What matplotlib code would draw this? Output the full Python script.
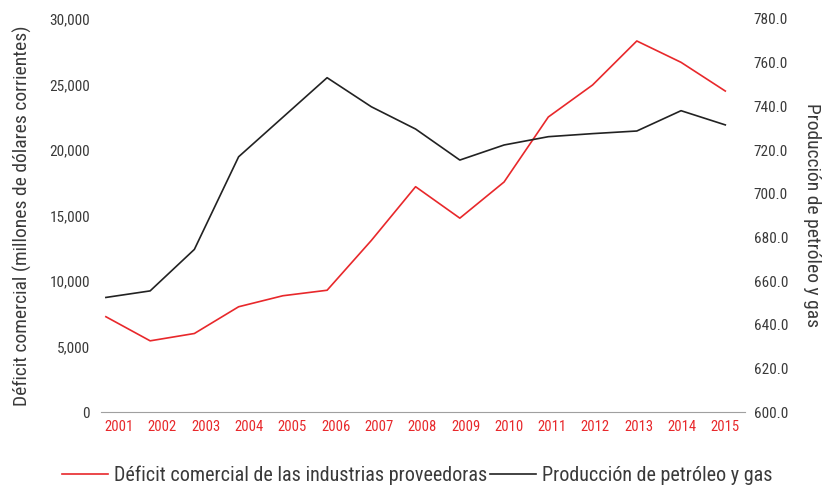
import numpy as np
import matplotlib.pyplot as plt
from matplotlib import font_manager

# datos
anios = ['2001', '2002', '2003', '2004', '2005', '2006', '2007', '2008',
         '2009', '2010', '2011', '2012', '2013', '2014', '2015']
deficit = [7280, 5440, 6000, 8040, 8880, 9300, 13100, 17200,
           14800, 17560, 22520, 24960, 28320, 26690, 24500]
produccion = [652.5, 655.5, 674.5, 716.9, 735.0, 753.1, 739.8, 729.6,
              715.4, 722.3, 726.1, 727.5, 728.7, 738.0, 731.5]

rojo = '#e8282b'
gris = '#3a3a3a'

# fuente angosta si existe, si no Roboto con tamaños mas chicos
nombres = {f.name for f in font_manager.fontManager.ttflist}
if 'Roboto Condensed' in nombres:
    plt.rcParams['font.family'] = ['Roboto Condensed', 'DejaVu Sans']
    t_tick, t_x, t_lab, t_ley = 11, 10.5, 14, 14.5
else:
    plt.rcParams['font.family'] = ['Roboto', 'DejaVu Sans']
    t_tick, t_x, t_lab, t_ley = 10, 9.5, 12, 12.5

fig = plt.figure(figsize=(8.28, 4.86), dpi=100)
ax = fig.add_axes([0.122, 0.152, 0.778, 0.809])
ax2 = ax.twinx()

x = np.arange(len(anios))
l1, = ax.plot(x, deficit, color=rojo, lw=1.2,
              label='Déficit comercial de las industrias proveedoras')
l2, = ax2.plot(x, produccion, color='#222222', lw=1.2,
               label='Producción de petróleo y gas')

ax.set_xlim(-0.11, 14.45)
ax.set_ylim(0, 30000)
ax2.set_ylim(600, 780)
ax.set_yticks(np.arange(0, 30001, 5000))
ax.set_yticklabels([f'{v:,}' for v in range(0, 30001, 5000)])
ax2.set_yticks(np.arange(600, 781, 20))
ax2.set_yticklabels([f'{v:.1f}' for v in range(600, 781, 20)])
# en el original las etiquetas de años no caen justo sobre los puntos
ax.set_xticks(np.linspace(0.3, len(anios) - 1, len(anios)))
ax.set_xticklabels(anios)

for a in (ax, ax2):
    for s in ['top', 'left', 'right', 'bottom']:
        a.spines[s].set_visible(False)
    a.tick_params(length=0, labelsize=t_tick, labelcolor=gris)
ax.spines['bottom'].set_visible(True)
ax.spines['bottom'].set_color('#a0a0a0')
ax.tick_params(axis='x', labelcolor=rojo, labelsize=t_x, pad=6)
ax.tick_params(axis='y', pad=8)
ax2.tick_params(axis='y', pad=6)

ax.set_ylabel('Déficit comercial (millones de dólares corrientes)', fontsize=t_lab,
              color=gris, labelpad=12)
ax2.set_ylabel('Producción de petróleo y gas', fontsize=t_lab, color=gris,
               rotation=270, labelpad=24)

fig.legend(handles=[l1, l2], loc='lower center', ncol=2, frameon=False,
           fontsize=t_ley, handlelength=2.3, handletextpad=0.3, columnspacing=0.1,
           bbox_to_anchor=(0.504, -0.035), labelcolor=gris)

fig.savefig('out.png', dpi=100)
